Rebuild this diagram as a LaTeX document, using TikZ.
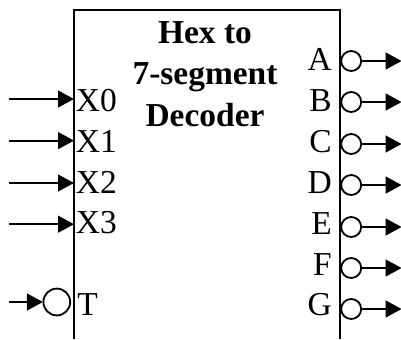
\documentclass[tikz,border=0pt]{standalone}
\usepackage{fontspec}
\setmainfont{Liberation Serif}
\usetikzlibrary{arrows.meta,positioning,calc}

\begin{document}
\begin{tikzpicture}[
    body/.style={line width=1.4pt, draw=black},
    edge/.style={-{Triangle[length=0.4cm,width=0.42cm]}, line width=1.4pt, draw=black, shorten >=-0.01cm},
    bubble/.style={draw, circle, line width=1.3pt, minimum size=0.5cm, inner sep=0pt},
    tbubble/.style={draw, circle, line width=1.3pt, minimum size=0.67cm, inner sep=0pt},
    pinl/.style={anchor=base west, inner sep=0pt, font=\fontsize{23.8}{28}\selectfont},
    pinr/.style={anchor=base east, inner sep=0pt, font=\fontsize{23.8}{28}\selectfont},
    title/.style={align=center, inner sep=0pt, font=\fontsize{23.8}{29.2}\selectfont\bfseries},
]
\useasboundingbox (0,0) rectangle (10.025,8.475);

% Block outline, open at the bottom
\coordinate (bl) at (1.84, 0.01);
\coordinate (tl) at (1.84, 8.225);
\coordinate (tr) at (8.49, 8.225);
\coordinate (br) at (8.49, 0.01);
\draw[body] (bl) -- (tl) -- (tr) -- (br);

\node[title] (name) at (5.125, 6.62) {Hex to\\7-segment\\Decoder};

% Inputs
\coordinate (x0s) at (0.22, 6.0);
\coordinate (x1s) at (0.22, 4.96);
\coordinate (x2s) at (0.22, 3.9);
\coordinate (x3s) at (0.22, 2.87);
\coordinate (ts) at (0.22, 0.925);

\coordinate (x0e) at (1.84, 6.0);
\coordinate (x1e) at (1.84, 4.96);
\coordinate (x2e) at (1.84, 3.9);
\coordinate (x3e) at (1.84, 2.87);

\node[pinl] (x0) at (1.89, 5.7) {X0};
\node[pinl] (x1) at (1.89, 4.675) {X1};
\node[pinl] (x2) at (1.89, 3.65) {X2};
\node[pinl] (x3) at (1.89, 2.65) {X3};
\node[pinl] (t) at (1.93, 0.6) {T};
\node[tbubble] (tb) at (1.42, 0.925) {};

\draw[edge] (x0s) -- (x0e);
\draw[edge] (x1s) -- (x1e);
\draw[edge] (x2s) -- (x2e);
\draw[edge] (x3s) -- (x3e);
\draw[edge] (ts) -- (tb);

% Outputs
\node[pinr] (a) at (8.3, 6.72) {A};
\node[pinr] (b) at (8.3, 5.7) {B};
\node[pinr] (c) at (8.3, 4.675) {C};
\node[pinr] (d) at (8.3, 3.65) {D};
\node[pinr] (e) at (8.3, 2.625) {E};
\node[pinr] (f) at (8.3, 1.6) {F};
\node[pinr] (g) at (8.3, 0.6) {G};

\node[bubble] (ab) at (8.78, 6.95) {};
\node[bubble] (bb) at (8.78, 5.925) {};
\node[bubble] (cb) at (8.78, 4.875) {};
\node[bubble] (db) at (8.78, 3.85) {};
\node[bubble] (eb) at (8.78, 2.8) {};
\node[bubble] (fb) at (8.78, 1.775) {};
\node[bubble] (gb) at (8.78, 0.75) {};

\coordinate (ae) at (10.03, 6.95);
\coordinate (be) at (10.03, 5.925);
\coordinate (ce) at (10.03, 4.875);
\coordinate (de) at (10.03, 3.85);
\coordinate (ee) at (10.03, 2.8);
\coordinate (fe) at (10.03, 1.775);
\coordinate (ge) at (10.03, 0.75);

\draw[edge] (ab) -- (ae);
\draw[edge] (bb) -- (be);
\draw[edge] (cb) -- (ce);
\draw[edge] (db) -- (de);
\draw[edge] (eb) -- (ee);
\draw[edge] (fb) -- (fe);
\draw[edge] (gb) -- (ge);

\end{tikzpicture}
\end{document}
